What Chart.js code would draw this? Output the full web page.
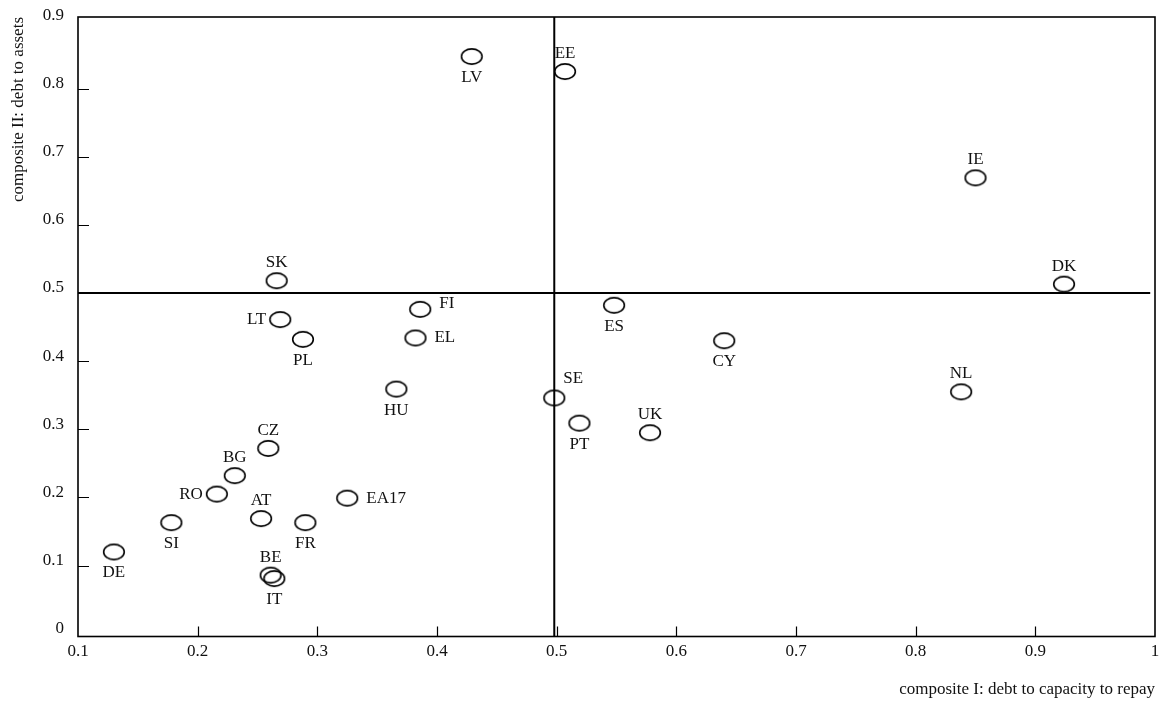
<!DOCTYPE html>
<html>
<head>
<meta charset="utf-8">
<script src="https://cdn.jsdelivr.net/npm/chart.js@4"></script>
<style>
  html, body { margin: 0; padding: 0; background: #fff; }
  #wrap { width: 1166px; height: 706px; position: relative; }
</style>
</head>
<body>
<div id="wrap"><canvas id="c"></canvas></div>
<script>
// ---- data ----
const codes  = ['LV','EE','IE','DK','SK','LT','PL','FI','EL','HU','ES','CY','SE','PT','UK','NL','CZ','BG','RO','AT','FR','EA17','SI','DE','BE','IT'];
const xVals  = [0.429,0.507,0.850,0.924,0.266,0.269,0.288,0.386,0.382,0.366,0.548,0.640,0.498,0.519,0.578,0.838,0.259,0.231,0.216,0.253,0.290,0.325,0.178,0.130,0.261,0.264];
const yVals  = [0.847,0.825,0.669,0.513,0.518,0.461,0.432,0.476,0.434,0.359,0.482,0.430,0.346,0.309,0.295,0.355,0.272,0.232,0.205,0.169,0.163,0.199,0.163,0.120,0.086,0.081];
const labelPos = ['below','above','above','above','above','left','below','rightUp','right','below','below','below','aboveRight','below','above','above','above','above','left','above','below','right','below','below','above','below'];

const xRange = [0.1, 1.0];
const yRange = [-0.004, 0.905];
const xTickValues = [0.1,0.2,0.3,0.4,0.5,0.6,0.7,0.8,0.9,1.0];
const yTickValues = [0,0.1,0.2,0.3,0.4,0.5,0.6,0.7,0.8,0.9];

// quadrant reference lines
const hLineY = 0.5, hLineX = [0.1, 0.996];
const vLineX = 0.498, vLineY = [-0.004, 0.905];

const xTitle = 'composite I: debt to capacity to repay';
const yTitle = 'composite II: debt to assets';

// ---- style ----
const FONT = '"Liberation Serif", "Times New Roman", serif';
const FS = 17;

function ellipseMarker() {
  const c = document.createElement('canvas');
  c.width = 24; c.height = 19;
  const g = c.getContext('2d');
  g.strokeStyle = '#000';
  g.lineWidth = 1.6;
  g.beginPath();
  g.ellipse(12, 9.5, 10.3, 7.6, 0, 0, Math.PI * 2);
  g.stroke();
  return c;
}
const marker = ellipseMarker();

const points = codes.map((c, i) => ({ x: xVals[i], y: yVals[i] }));

const offsets = {
  above: [0, -18, 'center'],
  below: [0, 21, 'center'],
  left: [-14, 0, 'right'],
  right: [19, 0, 'left'],
  rightUp: [19, -6, 'left'],
  aboveRight: [19, -19, 'center']
};

const labelPlugin = {
  id: 'pointLabels',
  afterDatasetsDraw(chart) {
    const meta = chart.getDatasetMeta(0);
    const ctx = chart.ctx;
    ctx.save();
    ctx.font = FS + 'px ' + FONT;
    ctx.fillStyle = '#111';
    ctx.textBaseline = 'middle';
    meta.data.forEach((el, i) => {
      const o = offsets[labelPos[i]];
      ctx.textAlign = o[2];
      ctx.fillText(codes[i], el.x + o[0], el.y + o[1]);
    });
    ctx.restore();
  }
};

const framePlugin = {
  id: 'frame',
  afterDraw(chart) {
    const {ctx, chartArea: a, scales} = chart;
    ctx.save();
    ctx.strokeStyle = '#000';
    ctx.lineWidth = 1.6;
    ctx.strokeRect(a.left, a.top, a.right - a.left, a.bottom - a.top);
    ctx.lineWidth = 1.2;
    ctx.beginPath();
    yTickValues.forEach(v => {
      const py = Math.round(scales.y.getPixelForValue(v)) + 0.5;
      if (py > a.bottom - 5 || py < a.top + 5) return;
      ctx.moveTo(a.left, py); ctx.lineTo(a.left + 11, py);
    });
    xTickValues.forEach(v => {
      const px = Math.round(scales.x.getPixelForValue(v)) + 0.5;
      if (px < a.left + 5 || px > a.right - 5) return;
      ctx.moveTo(px, a.bottom); ctx.lineTo(px, a.bottom - 10);
    });
    ctx.stroke();
    ctx.restore();
  }
};

new Chart(document.getElementById('c'), {
  type: 'scatter',
  data: {
    datasets: [
      {
        data: points,
        pointStyle: marker,
        pointRadius: 10,
        pointHoverRadius: 10,
        showLine: false,
        order: 2
      },
      {
        data: [{x: hLineX[0], y: hLineY}, {x: hLineX[1], y: hLineY}],
        showLine: true, borderColor: '#000', borderWidth: 2,
        pointRadius: 0, order: 1
      },
      {
        data: [{x: vLineX, y: vLineY[0]}, {x: vLineX, y: vLineY[1]}],
        showLine: true, borderColor: '#000', borderWidth: 2,
        pointRadius: 0, order: 1
      }
    ]
  },
  options: {
    responsive: true,
    maintainAspectRatio: false,
    animation: false,
    events: [],
    layout: { padding: { top: 17, right: 8, left: 0, bottom: 0 } },
    plugins: { legend: { display: false }, tooltip: { enabled: false } },
    scales: {
      x: {
        type: 'linear',
        min: xRange[0], max: xRange[1],
        border: { display: false },
        grid: { display: false, drawTicks: false },
        ticks: {
          stepSize: 0.1, includeBounds: false, padding: 5,
          color: '#111', font: { family: FONT, size: FS },
          callback: v => (Math.abs(v - 1) < 1e-9 ? '1' : (+v).toFixed(1))
        },
        title: {
          display: true, text: xTitle, align: 'end',
          color: '#111', font: { family: FONT, size: FS },
          padding: { top: 0, bottom: 6 }
        },
        afterFit(s) { s.height = 69.5; s.paddingLeft = 0; s.paddingRight = 0; }
      },
      y: {
        type: 'linear',
        min: yRange[0], max: yRange[1],
        border: { display: false },
        grid: { display: false, drawTicks: false },
        ticks: {
          stepSize: 0.1, includeBounds: false, padding: 14, labelOffset: -5,
          color: '#111', font: { family: FONT, size: FS },
          callback: v => (Math.abs(v) < 1e-9 ? '0' : (+v).toFixed(1))
        },
        title: {
          display: true, text: yTitle, align: 'end',
          color: '#111', font: { family: FONT, size: FS },
          padding: { top: 8, bottom: 0 }
        },
        afterFit(s) { s.width = 78; s.paddingTop = 0; s.paddingBottom = 0; }
      }
    }
  },
  plugins: [labelPlugin, framePlugin]
});
</script>
</body>
</html>
